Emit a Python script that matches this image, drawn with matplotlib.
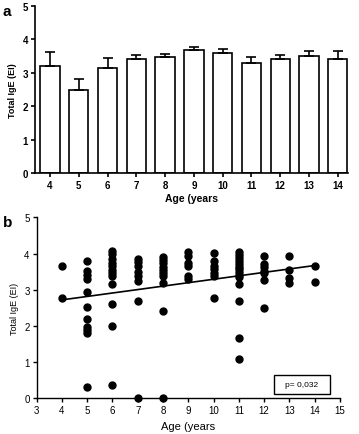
import numpy as np
import matplotlib
matplotlib.use('Agg')
import matplotlib.pyplot as plt
from matplotlib.patches import Rectangle

plt.rcParams['font.family'] = ['Liberation Sans', 'DejaVu Sans']

# panel a: mean total IgE per age
ages = [4, 5, 6, 7, 8, 9, 10, 11, 12, 13, 14]
mean_ige = [3.20, 2.50, 3.13, 3.42, 3.47, 3.67, 3.58, 3.30, 3.40, 3.49, 3.42]
sem_ige = [0.43, 0.32, 0.30, 0.11, 0.10, 0.10, 0.14, 0.16, 0.13, 0.15, 0.22]

# panel b: individual values per age
ige_by_age = {
    4: [3.65, 2.78],
    5: [3.80, 3.52, 3.40, 3.30, 2.95, 2.51, 2.19, 1.97, 1.89, 1.80, 0.30],
    6: [4.07, 3.98, 3.85, 3.75, 3.65, 3.55, 3.45, 3.37, 3.15, 2.60, 2.00, 0.38],
    7: [3.85, 3.76, 3.66, 3.48, 3.39, 3.25, 2.68, 0.0],
    8: [3.90, 3.82, 3.73, 3.64, 3.55, 3.47, 3.38, 3.19, 2.40, 0.0],
    9: [4.05, 3.93, 3.75, 3.65, 3.38, 3.30],
    10: [4.02, 3.80, 3.65, 3.56, 3.47, 3.38, 2.77],
    11: [4.05, 3.97, 3.88, 3.80, 3.72, 3.64, 3.56, 3.48, 3.42, 3.36, 3.16, 2.68, 1.66, 1.08],
    12: [3.94, 3.71, 3.62, 3.53, 3.45, 3.28, 2.49],
    13: [3.92, 3.55, 3.33, 3.18],
    14: [3.65, 3.21],
}
fit_x = [4, 14]
fit_y = [2.72, 3.67]
p_text = 'p= 0,032'

fig = plt.figure(figsize=(3.59, 4.35), dpi=100)

# ---- a ----
ax1 = fig.add_axes([0.0975, 0.5993, 0.8715, 0.3853])
zeros = np.zeros(len(sem_ige))
ax1.bar(ages, mean_ige, width=0.67, color='white', edgecolor='black', linewidth=1.2,
        yerr=[zeros, sem_ige], error_kw=dict(ecolor='black', elinewidth=1.2, capsize=3.6, capthick=1.2))
ax1.set_xlim(3.48, 14.35)
ax1.set_ylim(0, 5)
ax1.set_xticks(ages)
ax1.set_yticks(range(6))
for s in ['top', 'right']:
    ax1.spines[s].set_visible(False)
for s in ['left', 'bottom']:
    ax1.spines[s].set_linewidth(1.2)
ax1.tick_params(direction='out', length=3, width=1.2, labelsize=7, pad=2)
for lab in ax1.get_xticklabels() + ax1.get_yticklabels():
    lab.set_fontweight('bold')
ax1.set_ylabel('Total IgE (EI)', fontsize=6.5, fontweight='bold', labelpad=4)
ax1.set_xlabel('Age (years', fontsize=7.5, fontweight='bold', labelpad=2)
fig.text(0.008, 0.972, 'a', fontsize=11, fontweight='bold', va='center')

# ---- b ----
ax2 = fig.add_axes([0.102, 0.082, 0.845, 0.416])
for age, vals in ige_by_age.items():
    ax2.plot([age] * len(vals), vals, 'o', color='black', markersize=5, clip_on=False)
ax2.plot(fit_x, fit_y, color='black', linewidth=1.2)
ax2.set_xlim(3, 15)
ax2.set_ylim(0, 5)
ax2.set_xticks(range(3, 16))
ax2.set_yticks(range(6))
for s in ['top', 'right']:
    ax2.spines[s].set_visible(False)
for s in ['left', 'bottom']:
    ax2.spines[s].set_linewidth(1.0)
ax2.tick_params(direction='out', length=3, width=1.0, labelsize=7, pad=2)
ax2.set_ylabel('Total IgE (EI)', fontsize=6.5, labelpad=4)
ax2.set_xlabel('Age (years', fontsize=8, labelpad=4)
ax2.add_patch(Rectangle((0.782, 0.024), 0.185, 0.106, transform=ax2.transAxes,
                        facecolor='white', edgecolor='black', linewidth=1.0))
ax2.text(0.8745, 0.077, p_text, transform=ax2.transAxes, fontsize=6, ha='center', va='center')
fig.text(0.008, 0.487, 'b', fontsize=11, fontweight='bold', va='center')

fig.savefig('out.png', dpi=100)
